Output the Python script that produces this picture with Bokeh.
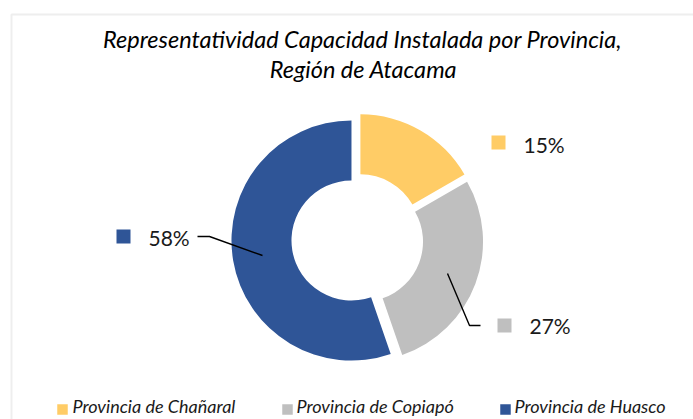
import math
from bokeh.plotting import figure
from bokeh.models import Range1d
from bokeh.core.properties import value
from bokeh.embed import file_html
from bokeh.resources import INLINE

# ---- data ----
provinces = ["Provincia de Chañaral", "Provincia de Copiapó", "Provincia de Huasco"]
shares = [16.7, 28.0, 55.3]
# labels as printed on the reference
pct_labels = ["15%", "27%", "58%"]
colors = ["#FFCC66", "#BFBFBF", "#2F5597"]
title_lines = ["Representatividad Capacidad Instalada por Provincia,", "Región de Atacama"]

W, H = 693, 419
p = figure(width=W, height=H, output_backend="svg", toolbar_location=None,
           x_range=Range1d(0, W), y_range=Range1d(0, H),
           min_border=0, outline_line_color=None,
           x_axis_location=None, y_axis_location=None)
p.xgrid.visible = False
p.ygrid.visible = False
p.background_fill_color = "white"
p.border_fill_color = "white"

def Y(sy):
    # screen y -> data y
    return H - sy

TOFF = 8  # text baseline correction
def YT(sy):
    return H - (sy - TOFF)

FONT = value("Lato")
TXT = "#1a1a1a"

# chart border (light gray)
p.line([11, 11, 800], [Y(600), Y(14), Y(14)], line_color="#EEEEEE", line_width=2)

# ---- donut ----
cx, cy = 356.9, Y(239.0)
R_out, R_in, explode = 120, 60, 6
total = float(sum(shares))
cum = 0.0
for v, c in zip(shares, colors):
    s = cum / total
    e = (cum + v) / total
    cum += v
    a0 = math.pi / 2 - 2 * math.pi * e
    a1 = math.pi / 2 - 2 * math.pi * s
    mid = (a0 + a1) / 2
    ox, oy = explode * math.cos(mid), explode * math.sin(mid)
    p.annular_wedge(x=cx + ox, y=cy + oy, inner_radius=R_in, outer_radius=R_out,
                    start_angle=a0, end_angle=a1, direction="anticlock",
                    fill_color=c, line_color=None)

# ---- leader lines ----
p.line([447, 469, 480], [Y(273), Y(325), Y(325)], line_color="black", line_width=1.4)
p.line([262, 209, 197], [Y(255), Y(236), Y(236)], line_color="black", line_width=1.4)

# ---- data labels with keys ----
lab_key = [(498, 142), (504, 325), (123, 236)]
lab_txt = [(523, 152), (529, 333), (148, 245)]
for (kx, ky), (tx, ty), c, t in zip(lab_key, lab_txt, colors, pct_labels):
    p.rect(x=kx, y=Y(ky), width=14, height=14, fill_color=c, line_color=None)
    p.text(x=[tx], y=[YT(ty)], text=[t], text_font=FONT, text_font_size="21px",
           text_color=TXT, text_align="left", text_baseline="alphabetic")

# ---- title ----
p.text(x=[362, 363], y=[YT(46), YT(76)], text=title_lines, text_font=FONT,
       text_font_size="23.5px", text_font_style="italic", text_color="black",
       text_align="center", text_baseline="alphabetic")

# ---- legend ----
leg_key_x = [62, 287, 505]
leg_txt_x = [72, 296, 514]
for kx, tx, c, name in zip(leg_key_x, leg_txt_x, colors, provinces):
    p.rect(x=kx, y=Y(409), width=10.5, height=10.5, fill_color=c, line_color=None)
    p.text(x=[tx], y=[YT(413.5)], text=[name], text_font=FONT, text_font_size="18px",
           text_font_style="italic", text_color=TXT, text_align="left",
           text_baseline="alphabetic")

open("out.html", "w").write(file_html(p, INLINE))
